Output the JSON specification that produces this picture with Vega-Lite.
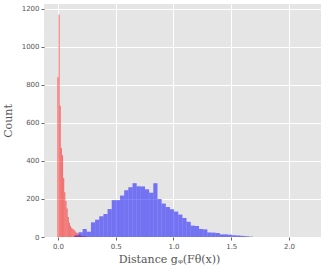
{
  "$schema": "https://vega.github.io/schema/vega-lite/v6.json",
  "autosize": "none",
  "width": 277,
  "height": 233,
  "padding": {"left": 44, "top": 4, "right": 6, "bottom": 31},
  "background": "white",
  "config": {
    "view": {"fill": "#e5e5e5", "stroke": null},
    "axis": {
      "domain": false,
      "grid": true,
      "gridColor": "#ffffff",
      "gridWidth": 1,
      "tickColor": "#666666",
      "tickSize": 3,
      "labelColor": "#555555",
      "labelFont": "DejaVu Sans",
      "labelFontSize": 7,
      "titleColor": "#555555",
      "titleFont": "DejaVu Serif",
      "titleFontSize": 11,
      "titleFontWeight": "normal"
    }
  },
  "data": {
    "values": [
      {"group": "red", "x0": -0.01, "x1": 0.0, "count": 840},
      {"group": "red", "x0": 0.0, "x1": 0.01, "count": 1170},
      {"group": "red", "x0": 0.01, "x1": 0.02, "count": 690},
      {"group": "red", "x0": 0.02, "x1": 0.03, "count": 470},
      {"group": "red", "x0": 0.03, "x1": 0.04, "count": 430},
      {"group": "red", "x0": 0.04, "x1": 0.05, "count": 310},
      {"group": "red", "x0": 0.05, "x1": 0.06, "count": 235},
      {"group": "red", "x0": 0.06, "x1": 0.07, "count": 190},
      {"group": "red", "x0": 0.07, "x1": 0.08, "count": 150},
      {"group": "red", "x0": 0.08, "x1": 0.09, "count": 105},
      {"group": "red", "x0": 0.09, "x1": 0.10, "count": 75},
      {"group": "red", "x0": 0.10, "x1": 0.11, "count": 58},
      {"group": "red", "x0": 0.11, "x1": 0.12, "count": 48},
      {"group": "red", "x0": 0.12, "x1": 0.13, "count": 42},
      {"group": "red", "x0": 0.13, "x1": 0.14, "count": 38},
      {"group": "red", "x0": 0.14, "x1": 0.15, "count": 30},
      {"group": "red", "x0": 0.15, "x1": 0.16, "count": 24},
      {"group": "red", "x0": 0.16, "x1": 0.17, "count": 20},
      {"group": "red", "x0": 0.17, "x1": 0.18, "count": 15},
      {"group": "red", "x0": 0.18, "x1": 0.19, "count": 10},
      {"group": "red", "x0": 0.19, "x1": 0.20, "count": 6},
      {"group": "red", "x0": 0.20, "x1": 0.21, "count": 5},
      {"group": "red", "x0": 0.21, "x1": 0.22, "count": 4},
      {"group": "red", "x0": 0.22, "x1": 0.23, "count": 3},
      {"group": "red", "x0": 0.23, "x1": 0.24, "count": 2},
      {"group": "red", "x0": 0.24, "x1": 0.25, "count": 1},
      {"group": "blue", "x0": 0.137, "x1": 0.173, "count": 8},
      {"group": "blue", "x0": 0.173, "x1": 0.209, "count": 25},
      {"group": "blue", "x0": 0.209, "x1": 0.245, "count": 42},
      {"group": "blue", "x0": 0.245, "x1": 0.281, "count": 28},
      {"group": "blue", "x0": 0.281, "x1": 0.317, "count": 77},
      {"group": "blue", "x0": 0.317, "x1": 0.353, "count": 91},
      {"group": "blue", "x0": 0.353, "x1": 0.389, "count": 109},
      {"group": "blue", "x0": 0.389, "x1": 0.425, "count": 121},
      {"group": "blue", "x0": 0.425, "x1": 0.461, "count": 147},
      {"group": "blue", "x0": 0.461, "x1": 0.497, "count": 194},
      {"group": "blue", "x0": 0.497, "x1": 0.533, "count": 194},
      {"group": "blue", "x0": 0.533, "x1": 0.569, "count": 218},
      {"group": "blue", "x0": 0.569, "x1": 0.605, "count": 246},
      {"group": "blue", "x0": 0.605, "x1": 0.641, "count": 262},
      {"group": "blue", "x0": 0.641, "x1": 0.677, "count": 283},
      {"group": "blue", "x0": 0.677, "x1": 0.713, "count": 267},
      {"group": "blue", "x0": 0.713, "x1": 0.749, "count": 266},
      {"group": "blue", "x0": 0.749, "x1": 0.785, "count": 251},
      {"group": "blue", "x0": 0.785, "x1": 0.821, "count": 233},
      {"group": "blue", "x0": 0.821, "x1": 0.857, "count": 283},
      {"group": "blue", "x0": 0.857, "x1": 0.893, "count": 200},
      {"group": "blue", "x0": 0.893, "x1": 0.929, "count": 176},
      {"group": "blue", "x0": 0.929, "x1": 0.965, "count": 158},
      {"group": "blue", "x0": 0.965, "x1": 1.001, "count": 146},
      {"group": "blue", "x0": 1.001, "x1": 1.037, "count": 134},
      {"group": "blue", "x0": 1.037, "x1": 1.073, "count": 118},
      {"group": "blue", "x0": 1.073, "x1": 1.109, "count": 100},
      {"group": "blue", "x0": 1.109, "x1": 1.145, "count": 80},
      {"group": "blue", "x0": 1.145, "x1": 1.181, "count": 60},
      {"group": "blue", "x0": 1.181, "x1": 1.217, "count": 58},
      {"group": "blue", "x0": 1.217, "x1": 1.253, "count": 42},
      {"group": "blue", "x0": 1.253, "x1": 1.289, "count": 40},
      {"group": "blue", "x0": 1.289, "x1": 1.325, "count": 24},
      {"group": "blue", "x0": 1.325, "x1": 1.361, "count": 23},
      {"group": "blue", "x0": 1.361, "x1": 1.397, "count": 21},
      {"group": "blue", "x0": 1.397, "x1": 1.433, "count": 14},
      {"group": "blue", "x0": 1.433, "x1": 1.469, "count": 14},
      {"group": "blue", "x0": 1.469, "x1": 1.505, "count": 12},
      {"group": "blue", "x0": 1.505, "x1": 1.541, "count": 9},
      {"group": "blue", "x0": 1.541, "x1": 1.577, "count": 8},
      {"group": "blue", "x0": 1.577, "x1": 1.613, "count": 6},
      {"group": "blue", "x0": 1.613, "x1": 1.649, "count": 4},
      {"group": "blue", "x0": 1.649, "x1": 1.685, "count": 2}
    ]
  },
  "mark": {"type": "bar", "opacity": 0.5, "binSpacing": 0, "strokeWidth": 0},
  "encoding": {
    "x": {
      "field": "x0",
      "type": "quantitative",
      "bin": "binned",
      "scale": {"domain": [-0.121, 2.277], "nice": false, "zero": false},
      "axis": {
        "values": [0, 0.5, 1, 1.5, 2],
        "format": ".1f",
        "title": "Distance gᵩ(Fθ(x))",
        "titlePadding": 4,
        "titleX": 125,
        "titleAnchor": "middle"
      }
    },
    "x2": {"field": "x1"},
    "y": {
      "field": "count",
      "type": "quantitative",
      "stack": null,
      "scale": {"domain": [0, 1226], "nice": false},
      "axis": {
        "values": [0, 200, 400, 600, 800, 1000, 1200],
        "format": "d",
        "title": "Count",
        "titlePadding": 8
      }
    },
    "color": {
      "field": "group",
      "type": "nominal",
      "scale": {"domain": ["red", "blue"], "range": ["#ff0000", "#0000ff"]},
      "legend": null
    }
  }
}
